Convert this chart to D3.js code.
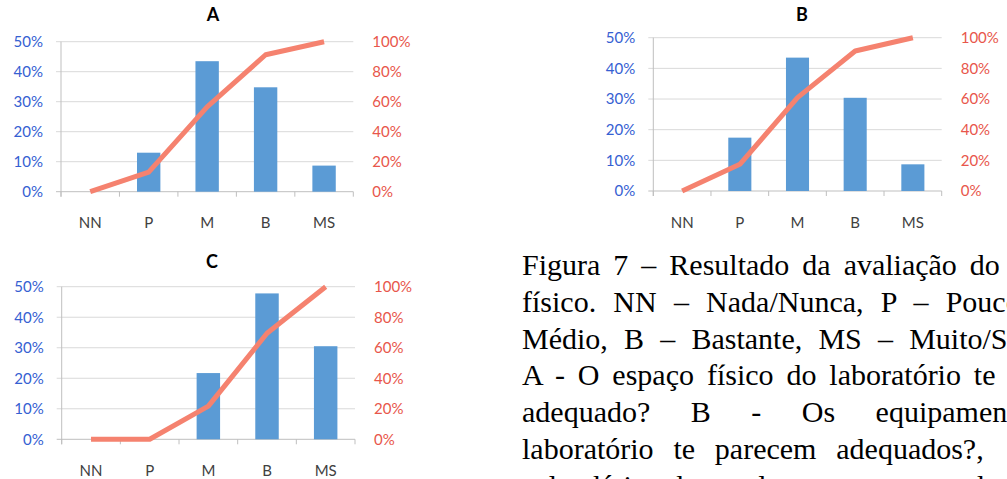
<!DOCTYPE html>
<html>
<head>
<meta charset="utf-8">
<script src="https://cdn.jsdelivr.net/npm/d3@7"></script>
<style>
  html, body { margin: 0; padding: 0; background: #fff; overflow: hidden; }
  #wrap { position: relative; width: 1007px; height: 479px; overflow: hidden; }
  svg { position: absolute; left: 0; top: 0; }
  #caption { position: absolute; left: 522px; top: 247px; font-family: 'Liberation Serif', 'Times New Roman', serif;
    font-size: 30px; line-height: 36.8px; color: #000; white-space: nowrap; }
</style>
</head>
<body>
<div id="wrap">
  <svg id="chart" width="1007" height="479"></svg>
  <div id="caption"></div>
</div>
<script>
const categories = ['NN', 'P', 'M', 'B', 'MS']
const chartTitles = ['A', 'B', 'C']
const valuesA = [0, 13.0, 43.5, 34.8, 8.7]
const valuesB = [0, 17.4, 43.5, 30.4, 8.7]
const valuesC = [0, 0, 21.7, 47.8, 30.5]
const leftTicks = [0, 10, 20, 30, 40, 50]
const rightTicks = [0, 20, 40, 60, 80, 100]
const captionLines = [
  'Figura 7 – Resultado da avaliação do espaço',
  'físico. NN – Nada/Nunca, P – Pouco, M –',
  'Médio, B – Bastante, MS – Muito/Sempre.',
  'A - O espaço físico do laboratório te parece',
  'adequado? B - Os equipamentos do',
  'laboratório te parecem adequados?,',
  'calendário das aulas te parece adequado?'
]

// plot areas (pixels) for each panel, plus title position
const layouts = [
  { x0: 61, x1: 353.3, y0: 191.7, y1: 41.7, tx: 213, ty: 15 },
  { x0: 653.3, x1: 941.7, y0: 191, y1: 37.7, tx: 802, ty: 15 },
  { x0: 61.7, x1: 355, y0: 439.3, y1: 286.7, tx: 212, ty: 262 }
]
// extra word spacing per caption line (justified text)
const captionSpacing = [5.5, 9.7, 8.7, 5.4, 33, 12.3, 14]

const svg = d3.select('#chart')

const drawPanel = (title, values, box) => {
  const { x0, x1, y0, y1, tx, ty } = box
  const xScale = d3.scaleBand().domain(categories).range([x0, x1]).paddingInner(0.6).paddingOuter(0.3)
  const yLeft = d3.scaleLinear().domain([0, 50]).range([y0, y1])
  const yRight = d3.scaleLinear().domain([0, 100]).range([y0, y1])
  const cumulative = Array.from(d3.cumsum(values))
  const step = xScale.step()

  const g = svg.append('g')

  // gridlines
  g.selectAll('.grid')
    .data(leftTicks)
    .enter()
    .append('line')
    .attr('x1', x0 - 5)
    .attr('x2', x1)
    .attr('y1', (d) => yLeft(d))
    .attr('y2', (d) => yLeft(d))
    .attr('stroke', (d) => (d === 0 ? '#bfbfbf' : '#d9d9d9'))
    .attr('stroke-width', 1)

  // left axis line
  g.append('line')
    .attr('x1', x0).attr('x2', x0)
    .attr('y1', y1).attr('y2', y0 + 5)
    .attr('stroke', '#bfbfbf')

  // category boundary ticks
  g.selectAll('.ctick')
    .data(d3.range(categories.length + 1))
    .enter()
    .append('line')
    .attr('x1', (i) => x0 + i * step)
    .attr('x2', (i) => x0 + i * step)
    .attr('y1', y0)
    .attr('y2', y0 + 5)
    .attr('stroke', '#bfbfbf')

  // bars
  g.selectAll('rect')
    .data(values)
    .enter()
    .append('rect')
    .attr('x', (d, i) => xScale(categories[i]))
    .attr('width', xScale.bandwidth())
    .attr('y', (d) => yLeft(d))
    .attr('height', (d) => y0 - yLeft(d))
    .attr('fill', '#5b9bd5')

  // cumulative line
  const line = d3.line()
    .x((d, i) => xScale(categories[i]) + xScale.bandwidth() / 2)
    .y((d) => yRight(d))
  g.append('path')
    .datum(cumulative)
    .attr('d', line)
    .attr('fill', 'none')
    .attr('stroke', '#f5826f')
    .attr('stroke-width', 5)
    .attr('stroke-linejoin', 'round')

  // axes labels
  const axisL = d3.axisLeft(yLeft).tickValues(leftTicks).tickSize(0).tickPadding(18).tickFormat((d) => d + '%')
  const gl = g.append('g').attr('transform', `translate(${x0},0)`).call(axisL)
  gl.select('.domain').remove()
  gl.selectAll('text').attr('fill', '#3560d2').style('font', '15px Lato')

  const axisR = d3.axisRight(yRight).tickValues(rightTicks).tickSize(0).tickPadding(19).tickFormat((d) => d + '%')
  const gr = g.append('g').attr('transform', `translate(${x1},0)`).call(axisR)
  gr.select('.domain').remove()
  gr.selectAll('text').attr('fill', '#e8564b').style('font', '15px Lato')

  const axisX = d3.axisBottom(xScale).tickSize(0).tickPadding(26)
  const gx = g.append('g').attr('transform', `translate(0,${y0})`).call(axisX)
  gx.select('.domain').remove()
  gx.selectAll('text').attr('fill', '#404040').style('font', '15px Lato')

  g.append('text')
    .attr('x', tx)
    .attr('y', ty)
    .attr('dy', '0.36em')
    .attr('text-anchor', 'middle')
    .style('font', 'bold 18px Lato')
    .attr('fill', '#000')
    .text(title)
}

drawPanel(chartTitles[0], valuesA, layouts[0])
drawPanel(chartTitles[1], valuesB, layouts[1])
drawPanel(chartTitles[2], valuesC, layouts[2])

d3.select('#caption')
  .selectAll('div')
  .data(captionLines)
  .enter()
  .append('div')
  .style('word-spacing', (d, i) => captionSpacing[i] + 'px')
  .text((d) => d)
</script>
</body>
</html>
